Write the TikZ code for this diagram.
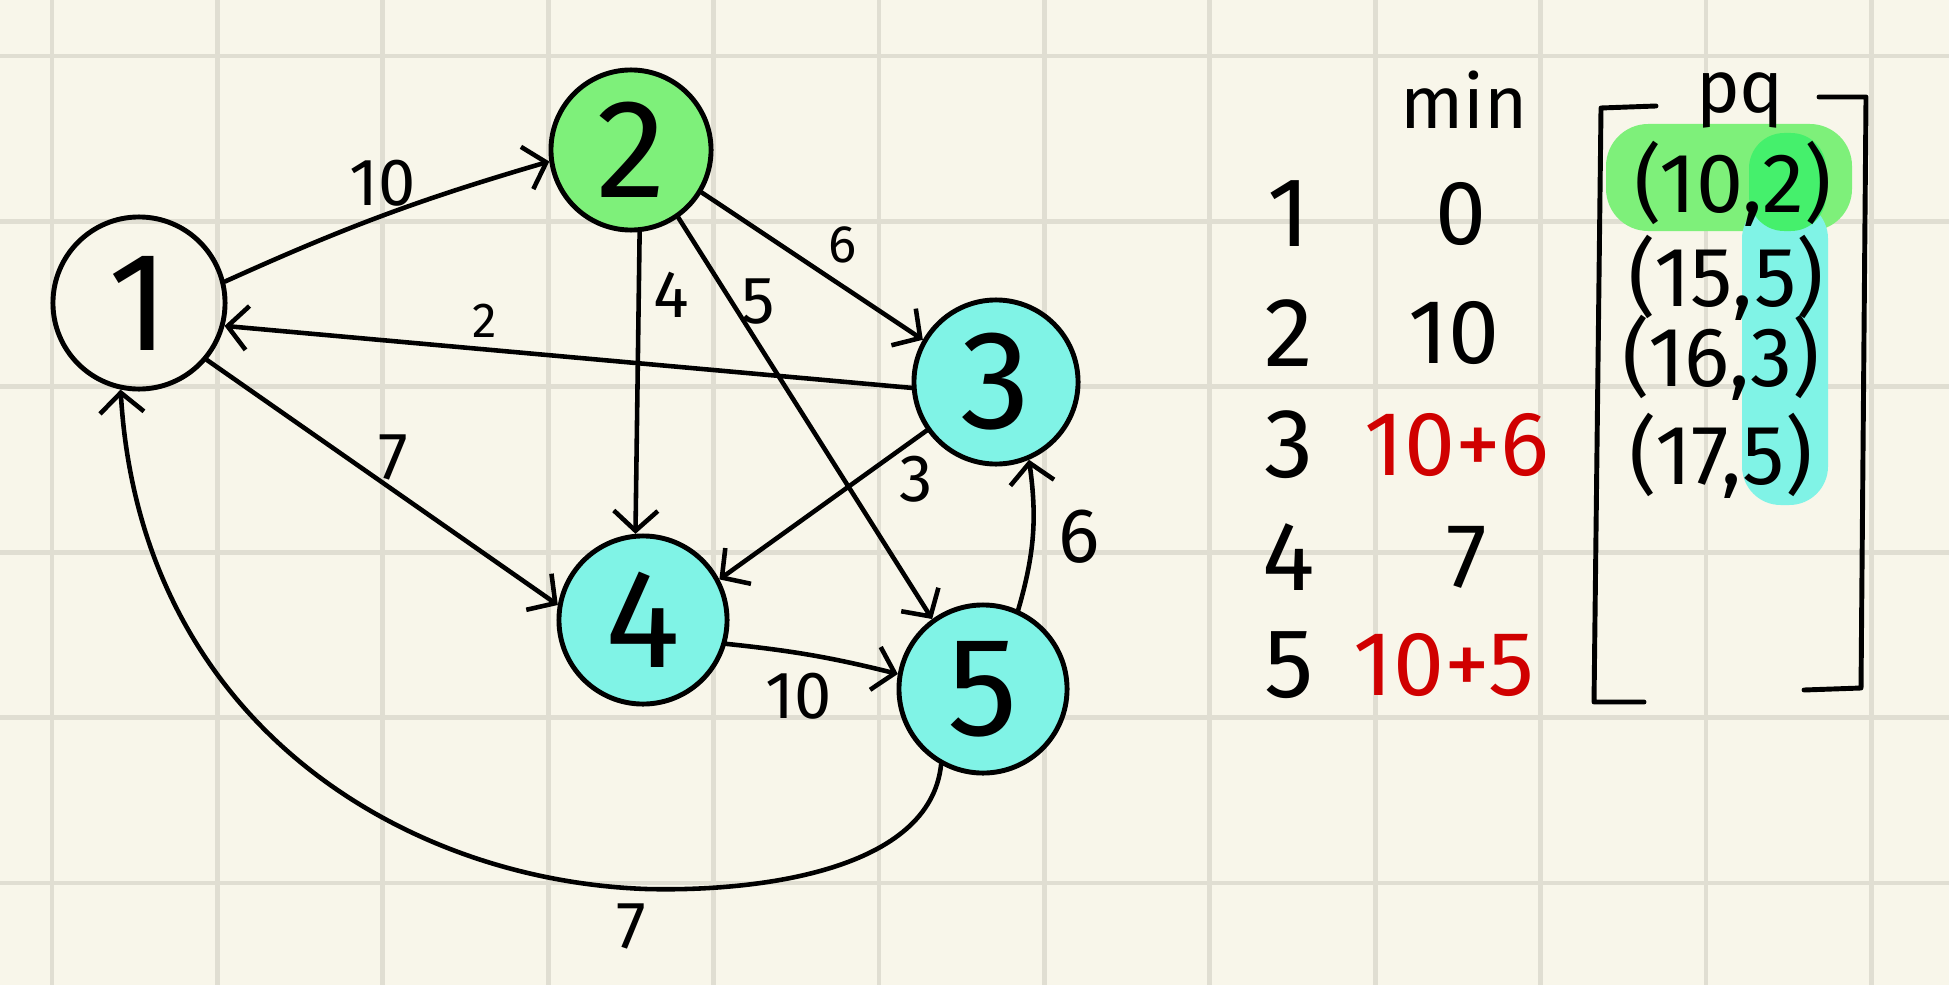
\documentclass[tikz,border=0pt]{standalone}
\usepackage{fontspec}
\setmainfont{Fira Sans}
\usetikzlibrary{arrows.meta}
\definecolor{bg}{HTML}{F8F6EA}
\definecolor{gridc}{HTML}{E0DED2}
\definecolor{gnode}{HTML}{7EF07A}
\definecolor{cnode}{HTML}{80F3E6}
\definecolor{gdark}{HTML}{45F06C}
\definecolor{redc}{HTML}{D00000}
\begin{document}
\begin{tikzpicture}[x=0.01cm,y=-0.01cm,
  vert/.style={circle,draw=black,line width=1.4pt,inner sep=0pt,font=\fontsize{40}{40}\selectfont},
  edge/.style={line width=1.3pt,line cap=round,-{Straight Barb[length=2mm,width=4.4mm,line width=1.3pt]}},
  wlab/.style={inner sep=0pt,font=\fontsize{19}{19}\selectfont},
  rownum/.style={inner sep=0pt,font=\fontsize{28}{28}\selectfont},
  minval/.style={inner sep=0pt,font=\fontsize{26}{26}\selectfont},
  pqent/.style={inner sep=0pt,font=\fontsize{24}{24}\selectfont},
  brk/.style={line width=1.4pt,line cap=round,line join=round}
]
% background and grid
\fill[bg] (0,0) rectangle (1949,985);
\useasboundingbox (0,0) rectangle (1949,985);
\foreach \i in {0,...,11} {
  \draw[gridc,line width=1.4pt] ({52+165.4*\i},0) -- ({52+165.4*\i},985);
}
\foreach \j in {0,...,5} {
  \draw[gridc,line width=1.4pt] (0,{56+165.4*\j}) -- (1949,{56+165.4*\j});
}

% nodes
\node[vert,minimum size=1.72cm] (n1) at (139,303) {1};
\node[vert,fill=gnode,minimum size=1.6cm] (n2) at (631,150) {2};
\node[vert,fill=cnode,minimum size=1.64cm] (n3) at (996,382) {3};
\node[vert,fill=cnode,minimum size=1.68cm] (n4) at (643,620) {4};
\node[vert,fill=cnode,minimum size=1.68cm] (n5) at (983,689) {5};

% edges
\draw[edge] (n1.14) to[bend left=4] (n2.188);
\draw[edge] (n3.184) -- (n1.-15);
\draw[edge] (n1.-40) -- (n4.170);
\draw[edge] (n2.-84) -- (n4.95);
\draw[edge] (n2.-55) -- (n5.126);
\draw[edge] (n2.-31) -- (n3.150);
\draw[edge] (n3.215) -- (n4.28);
\draw[edge] (n5.66) to[bend right=12] (n3.-67);
\draw[edge] (n4.-16) to[bend left=4] (n5.170);
\draw[edge] (n5.-119) .. controls (930,870) and (760,892) .. (646,889)
   .. controls (400,880) and (140,720) .. (n1.-102);

% edge labels
\node[wlab] (w12) at (383,183) {10};
\node[wlab,font=\fontsize{14}{14}\selectfont] (w31) at (485,321) {2};
\node[wlab] (w14) at (393,457) {7};
\node[wlab] (w24) at (671,295) {4};
\node[wlab] (w25) at (758,302) {5};
\node[wlab,font=\fontsize{15}{15}\selectfont] (w23) at (843,245) {6};
\node[wlab] (w34) at (916,479) {3};
\node[wlab,font=\fontsize{22}{22}\selectfont] (w53) at (1079,537) {6};
\node[wlab] (w45) at (799,696) {10};
\node[wlab] (w51) at (631,926) {7};

% table
\node[inner sep=0pt,font=\fontsize{21}{21}\selectfont] (minh) at (1464,100) {min};
\node[rownum] (r1) at (1289,214) {1};
\node[rownum] (r2) at (1289,333) {2};
\node[rownum] (r3) at (1289,445) {3};
\node[rownum] (r4) at (1289,557) {4};
\node[rownum] (r5) at (1289,665) {5};
\node[minval] (m1) at (1461,214) {0};
\node[minval] (m2) at (1454,333) {10};
\node[minval,text=redc] (m3) at (1457,445) {10+6};
\node[minval] (m4) at (1467,557) {7};
\node[minval,text=redc] (m5) at (1444,665) {10+5};

% highlights
\fill[gnode,rounded corners=12pt] (1606,124) rectangle (1852,231);
\fill[cnode,rounded corners=11pt] (1742,200) rectangle (1828,505);
\fill[gdark,rounded corners=10pt] (1749,133) rectangle (1826,231);

% bracket
\draw[brk] (1656,106) -- (1601,108) -- (1594,702) -- (1644,702);
\draw[brk] (1819,97) -- (1866,97) -- (1861,688) -- (1804,690);
\node[inner sep=0pt,font=\fontsize{21}{21}\selectfont] (pqh) at (1740,100) {pq};

% pq entries
\node[pqent] (p1) at (1733,184) {(10,2)};
\node[pqent] (p2) at (1726,278) {(15,5)};
\node[pqent] (p3) at (1721,358) {(16,3)};
\node[pqent] (p4) at (1721,456) {(17,5)};
\end{tikzpicture}
\end{document}
